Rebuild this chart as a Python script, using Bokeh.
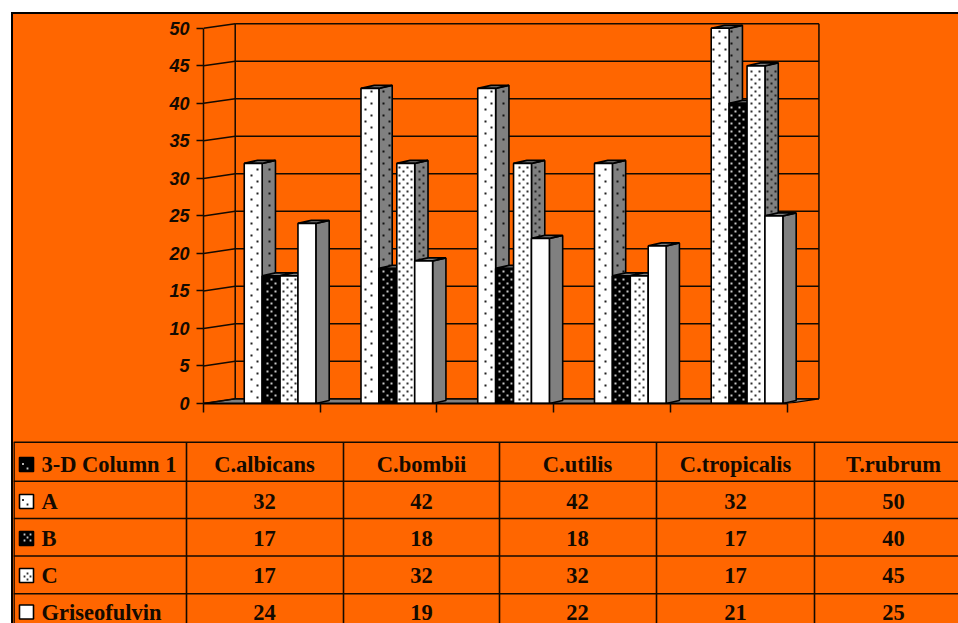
from bokeh.embed import file_html
from bokeh.resources import INLINE
from bokeh.plotting import figure
from bokeh.layouts import column
from bokeh.models import Column, FixedTicker, Range1d
from bokeh.core.properties import value

# Table contents and plotted values
categories = ["C.albicans", "C.bombii", "C.utilis", "C.tropicalis", "T.rubrum"]
series_names = ["A", "B", "C", "Griseofulvin"]
series_a = [32, 42, 42, 32, 50]
series_b = [17, 18, 18, 17, 40]
series_c = [17, 32, 32, 17, 45]
griseofulvin = [24, 19, 22, 21, 25]
y_ticks = [0, 5, 10, 15, 20, 25, 30, 35, 40, 45, 50]
corner_label = "3-D Column 1"

ORANGE = "#FF6600"
INK = "#140a00"
GREY = "#808080"

all_series = [series_a, series_b, series_c, griseofulvin]
# front fill, front dot colour, dot pitch (px), side dot colour
styles = [
    ("white", "#202020", 12, "#101010"),
    ("black", "#c8c8c8", 8, "#202020"),
    ("white", "#303030", 8, "#202020"),
    ("white", None, None, None),
]

# 3-D projection, in category and value units
BAR_LEAD = 0.349
BAR_W = 0.1534
BAR_DX = 0.114
BAR_DY = 0.4
WALL_DX = 0.2716
WALL_DY = 0.62
N = len(categories)

# Size of one screen pixel along each chart axis, for the dot screens
PX_X = 6.467 / 755
PX_Y = 51.84 / 389


def stagger(x0, x1, y0, y1, pitch, ux=1.0, uy=1.0):
    """Staggered dot screen filling a box, anchored to a shared lattice."""
    xs, ys = [], []
    half = pitch / 2
    row = int(y0 / uy // half)
    while row * half * uy <= y1:
        col = int(x0 / ux // pitch)
        shift = half if row % 2 else 0
        while col * pitch * ux + shift * ux <= x1:
            x = col * pitch * ux + shift * ux
            y = row * half * uy
            if x0 <= x <= x1 and y0 <= y <= y1:
                xs.append(x)
                ys.append(y)
            col += 1
        row += 1
    return xs, ys


chart = figure(
    width=945, height=416, output_backend="svg", toolbar_location=None,
    x_range=Range1d(0, 6.467), y_range=Range1d(0, 51.84),
    min_border_left=190, min_border_top=0, min_border_bottom=27, min_border_right=0,
    background_fill_color=ORANGE, border_fill_color=ORANGE, outline_line_color=None,
    styles={"background-color": ORANGE},
)
chart.grid.visible = False

# Floor of the box
chart.patch([0, WALL_DX, N + WALL_DX, N], [0, WALL_DY, WALL_DY, 0],
            fill_color=GREY, line_color="black", line_width=1.2)

# Back wall: gridlines, their returns onto the side wall, and the two uprights
chart.segment(x0=[WALL_DX] * len(y_ticks), x1=[N + WALL_DX] * len(y_ticks),
              y0=[t + WALL_DY for t in y_ticks], y1=[t + WALL_DY for t in y_ticks],
              line_color=INK, line_width=1.5)
chart.segment(x0=[0] * len(y_ticks), x1=[WALL_DX] * len(y_ticks),
              y0=y_ticks, y1=[t + WALL_DY for t in y_ticks],
              line_color=INK, line_width=1.5)
top = y_ticks[-1] + WALL_DY
chart.segment(x0=[WALL_DX, N + WALL_DX], x1=[WALL_DX, N + WALL_DX],
              y0=[WALL_DY, WALL_DY], y1=[top, top],
              line_color=INK, line_width=1.5)

# Columns, painted left to right so each one hides the side of its neighbour
for j, (vals, st) in enumerate(zip(all_series, styles)):
    front, dot_colour, pitch, side_colour = st
    lefts = [i + BAR_LEAD + j * BAR_W for i in range(N)]
    rights = [x + BAR_W for x in lefts]
    side_x = [[r, r + BAR_DX, r + BAR_DX, r] for r in rights]
    side_y = [[0, BAR_DY, v + BAR_DY, v] for v in vals]
    top_x = [[l, l + BAR_DX, r + BAR_DX, r] for l, r in zip(lefts, rights)]
    top_y = [[v, v + BAR_DY, v + BAR_DY, v] for v in vals]
    chart.patches(side_x, side_y, fill_color=GREY, line_color="black", line_width=1.6)
    if dot_colour:
        sx, sy = [], []
        for r, v in zip(rights, vals):
            a, b = stagger(r + 2 * PX_X, r + BAR_DX - 2 * PX_X, BAR_DY, v - 2 * PX_Y, pitch, PX_X, PX_Y)
            sx += a
            sy += b
        chart.scatter(sx, sy, marker="square", size=2, fill_color=side_colour, line_color=None)
    chart.patches(top_x, top_y, fill_color=GREY, line_color="black", line_width=1.8)
    chart.quad(left=lefts, right=rights, bottom=[0] * N, top=vals,
               fill_color=front, line_color="black", line_width=1.6)
    if dot_colour:
        fx, fy = [], []
        for l, r, v in zip(lefts, rights, vals):
            a, b = stagger(l + 2 * PX_X, r - 2 * PX_X, 2 * PX_Y, v - 2 * PX_Y, pitch, PX_X, PX_Y)
            fx += a
            fy += b
        chart.scatter(fx, fy, marker="square", size=2, fill_color=dot_colour, line_color=None)

# Value and category axes
chart.yaxis.ticker = FixedTicker(ticks=y_ticks)
chart.yaxis.bounds = (y_ticks[0], y_ticks[-1])
chart.yaxis.axis_line_color = INK
chart.yaxis.axis_line_width = 1.5
chart.yaxis.major_tick_line_color = INK
chart.yaxis.major_tick_line_width = 1.5
chart.yaxis.major_tick_out = 7
chart.yaxis.major_tick_in = 0
chart.yaxis.minor_tick_line_color = None
chart.yaxis.major_label_standoff = 7
chart.yaxis.major_label_text_font = "Liberation Sans"
chart.yaxis.major_label_text_font_style = "bold italic"
chart.yaxis.major_label_text_font_size = "18px"
chart.yaxis.major_label_text_color = INK

chart.xaxis.ticker = FixedTicker(ticks=list(range(N + 1)))
chart.xaxis.bounds = (0, N)
chart.xaxis.major_label_overrides = {i: "" for i in range(N + 1)}
chart.xaxis.axis_line_color = "black"
chart.xaxis.axis_line_width = 2
chart.xaxis.major_tick_line_color = INK
chart.xaxis.major_tick_line_width = 1.5
chart.xaxis.major_tick_out = 9
chart.xaxis.major_tick_in = 0
chart.xaxis.minor_tick_line_color = None

# Data table below the chart, laid out in page pixels
table = figure(
    width=945, height=193, output_backend="svg", toolbar_location=None,
    x_range=Range1d(13, 958), y_range=Range1d(623, 430),
    min_border=0, background_fill_color=ORANGE, border_fill_color=ORANGE,
    outline_line_color=None, styles={"background-color": ORANGE},
)
table.axis.visible = False
table.grid.visible = False

row_lines = [441.7, 480.7, 518, 555.5, 593.3]
col_lines = [13.5, 186, 343, 499, 656, 814]
table.segment(x0=[13] * 5, x1=[958] * 5, y0=row_lines, y1=row_lines, line_color=INK, line_width=1.6)
table.segment(x0=col_lines, x1=col_lines, y0=[441.7] * 6, y1=[623] * 6, line_color=INK, line_width=1.6)

col_centres = [264, 421, 577, 735, 893]
row_centres = [464, 501, 538, 575, 611.5]
font = dict(text_font=value("Liberation Serif"), text_font_style="bold", text_font_size="22.5px",
            text_color=INK, text_baseline="middle")

xs, ys, labels = [], [], []
for c, cat in enumerate(categories):
    xs.append(col_centres[c]); ys.append(row_centres[0]); labels.append(cat)
    for r, vals in enumerate(all_series):
        xs.append(col_centres[c]); ys.append(row_centres[r + 1]); labels.append(str(vals[c]))
table.text(x=xs, y=ys, text=labels, text_align="center", **font)

names = [corner_label] + series_names
table.text(x=[41] * 5, y=row_centres, text=names, text_align="left", **font)

# Legend keys at the head of each row; their screens are coarser than the columns'
swatches = [("black", "#c8c8c8", 12)] + [(s[0], s[1], s[2]) for s in styles]
for cy, (fill, dot_colour, pitch) in zip(row_centres, swatches):
    table.quad(left=[19], right=[33], top=[cy - 7], bottom=[cy + 7],
               fill_color=fill, line_color="black", line_width=1.6)
    if dot_colour:
        kx, ky = stagger(22, 30, cy - 4, cy + 4, pitch * 0.75)
        table.scatter(kx, ky, marker="square", size=1.8, fill_color=dot_colour, line_color=None)

# White page margin and the black rule around the panel
root = Column(
    children=[column(chart), column(table)], spacing=0,
    margin=(12, 0, 0, 11),
    styles={"border-top": "2px solid black", "border-left": "2px solid black",
            "background-color": ORANGE},
)
open("out.html", "w").write(file_html(root, INLINE))
